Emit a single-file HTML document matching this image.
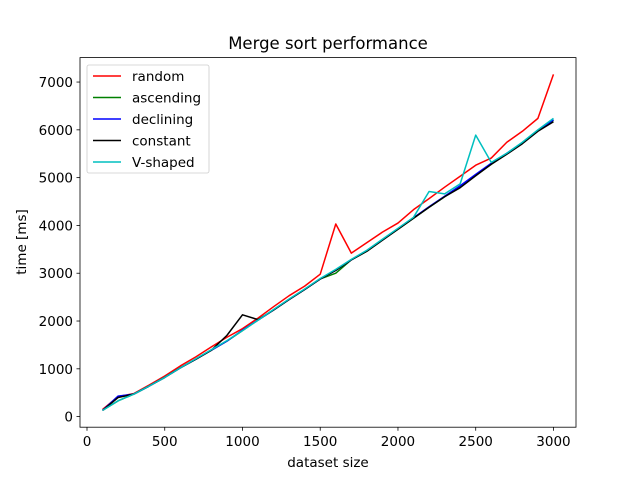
<!DOCTYPE html>
<html><head><meta charset="utf-8"><style>
body{margin:0;background:#fff}
svg{font-family:"DejaVu Sans","Liberation Sans",sans-serif}
</style></head><body>
<svg id="c" width="640" height="480" xmlns="http://www.w3.org/2000/svg"></svg>
<script>
const sizes=[100,200,300,400,500,600,700,800,900,1000,1100,1200,1300,1400,1500,1600,1700,1800,1900,2000,2100,2200,2300,2400,2500,2600,2700,2800,2900,3000];
const randomVals=[150,420,480,660,850,1060,1250,1460,1660,1840,2060,2300,2530,2730,2980,4030,3420,3640,3860,4050,4330,4560,4800,5030,5260,5410,5740,5970,6240,7160];
const ascendingVals=[130,330,470,640,820,1020,1200,1390,1580,1800,2020,2230,2450,2660,2880,3000,3280,3460,3700,3920,4150,4380,4600,4820,5050,5280,5500,5720,5980,6200];
const decliningVals=[130,430,470,640,820,1020,1200,1390,1580,1810,2020,2230,2450,2660,2880,3060,3280,3470,3700,3930,4160,4390,4610,4830,5070,5300,5510,5730,5990,6210];
const constantVals=[130,400,470,640,820,1020,1200,1390,1700,2130,2030,2230,2450,2660,2880,3060,3280,3460,3690,3920,4150,4380,4600,4790,5040,5280,5490,5710,5970,6170];
const vshapedVals=[130,330,470,640,820,1020,1210,1400,1590,1800,2020,2240,2460,2670,2890,3080,3290,3480,3710,3940,4170,4710,4660,4870,5890,5320,5510,5740,6000,6240];
const xTicks=[0,500,1000,1500,2000,2500,3000];
const yTicks=[0,1000,2000,3000,4000,5000,6000,7000];
const series=[["random","#ff0000",randomVals],["ascending","#008000",ascendingVals],["declining","#0000ff",decliningVals],["constant","#000000",constantVals],["V-shaped","#00bfbf",vshapedVals]];
const L=80,R=576,T=57.6,B=427.2;
const all=series.flatMap(s=>s[2]);
const xmin0=Math.min(...sizes),xmax0=Math.max(...sizes),ymin0=Math.min(...all),ymax0=Math.max(...all);
const xmin=xmin0-0.05*(xmax0-xmin0),xmax=xmax0+0.05*(xmax0-xmin0);
const ymin=ymin0-0.05*(ymax0-ymin0),ymax=ymax0+0.05*(ymax0-ymin0);
const X=v=>L+(v-xmin)/(xmax-xmin)*(R-L);
const Y=v=>B-(v-ymin)/(ymax-ymin)*(B-T);
const svg=document.getElementById('c');
const NS="http://www.w3.org/2000/svg";
function mk(t,a,p){const e=document.createElementNS(NS,t);for(const k in a)e.setAttribute(k,a[k]);(p||svg).appendChild(e);return e;}
series.forEach(s=>{
  const p=mk('polyline',{points:sizes.map((x,i)=>X(x)+','+Y(s[2][i])).join(' '),fill:'none',stroke:s[1],'stroke-width':1.5,'stroke-linejoin':'round'});
  
  
});
const frame=mk('rect',{x:L,y:T,width:R-L,height:B-T,fill:'none',stroke:'#000','stroke-width':0.8});


xTicks.forEach(v=>{
  mk('line',{x1:X(v),x2:X(v),y1:B,y2:B+3.5,stroke:'#000','stroke-width':0.8});
  const t=mk('text',{x:X(v),y:B+19,'text-anchor':'middle','font-size':13.5});t.textContent=v;
  
  
});
yTicks.forEach(v=>{
  mk('line',{x1:L-3.5,x2:L,y1:Y(v),y2:Y(v),stroke:'#000','stroke-width':0.8});
  const t=mk('text',{x:L-7,y:Y(v)+5,'text-anchor':'end','font-size':13.5});t.textContent=v;
  
  
});
const ti=mk('text',{x:(L+R)/2,y:49,'text-anchor':'middle','font-size':16.5});ti.textContent='Merge sort performance';


const xl=mk('text',{x:(L+R)/2,y:467,'text-anchor':'middle','font-size':13.5});xl.textContent='dataset size';


const yl=mk('text',{x:0,y:0,'text-anchor':'middle','font-size':13.5,transform:'translate(26,242) rotate(-90)'});yl.textContent='time [ms]';


const lg=mk('g',{});


mk('rect',{x:87,y:65,width:122,height:108,rx:2,fill:'#fff','fill-opacity':0.8,stroke:'#ccc','stroke-width':0.8},lg);
series.forEach((s,i)=>{
  const y=76+i*21.5;
  const g=mk('g',{},lg);
  
  
  mk('line',{x1:93,x2:121,y1:y,y2:y,stroke:s[1],'stroke-width':1.5},g);
  const t=mk('text',{x:132,y:y+5,'font-size':13.5},g);t.textContent=s[0];
});
</script>
</body></html>
